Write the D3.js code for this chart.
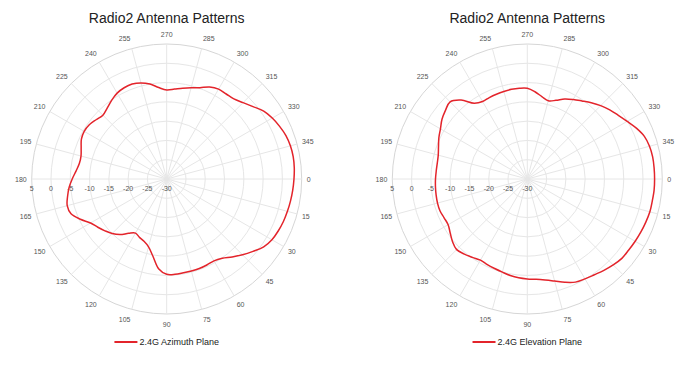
<!DOCTYPE html>
<html lang="en">
<head>
    <meta charset="UTF-8">
    <title>Radio2 Antenna Patterns</title>
    <script src="https://d3js.org/d3.v7.min.js"></script>
    <style>
        body { margin: 0; background: #fff; }
        svg { display: block; font-family: "Liberation Sans", Arial, sans-serif; }
    </style>
</head>
<body>
    <svg id="chart" width="691" height="370"></svg>
    <script>
        // angles (degrees) at which the pattern was read, every 5 degrees
        const angles = d3.range(0, 360, 5);

        // gain in dB, one value per angle
        const azimuthValues = [
            3.0, 2.8, 2.6, 2.4, 2.2, 1.9, 1.5, 0.7, -0.8, -2.2, -3.6, -4.9,
            -5.5, -5.4, -5.3, -5.3, -5.3, -5.2, -5.3, -6.6, -9.6, -11.8, -12.8, -13.3,
            -13.8, -12.8, -11.2, -10.0, -9.1, -8.2, -7.2, -5.3, -3.6, -3.3, -3.9, -4.6,
            -5.5, -6.4, -7.0, -7.0, -6.4, -5.6, -5.3, -5.5, -6.1, -6.6, -6.0, -5.1,
            -4.3, -3.9, -3.8, -4.2, -5.0, -6.2, -6.9, -6.6, -6.1, -5.5, -4.8, -3.7,
            -3.1, -3.1, -2.9, -2.0, -0.8, 0.7, 1.6, 2.3, 2.9, 3.2, 3.3, 3.2
        ];
        const elevationValues = [
            3.0, 3.0, 2.9, 2.9, 2.7, 2.5, 2.3, 2.1, 2.0, 1.5, 0.9, 0.3,
            -0.1, -0.5, -1.5, -2.6, -3.4, -3.9, -4.1, -4.3, -4.6, -5.0, -5.3, -5.5,
            -5.7, -5.2, -4.6, -4.1, -4.7, -5.6, -6.3, -6.2, -5.9, -5.9, -6.0, -6.1,
            -6.2, -6.3, -6.3, -6.1, -5.5, -4.7, -4.0, -3.0, -2.3, -1.7, -3.3, -6.0,
            -6.8, -6.7, -6.6, -6.5, -6.4, -6.4, -6.5, -7.3, -8.3, -9.0, -8.3, -7.1,
            -6.2, -5.3, -4.2, -3.1, -2.1, -1.2, -0.1, 1.2, 2.3, 2.8, 3.0, 3.0
        ];

        const angleTicks = d3.range(0, 360, 15);
        const radialTicks = [5, 0, -5, -10, -15, -20, -25, -30];

        const titleText = 'Radio2 Antenna Patterns';
        const seriesNames = ['2.4G Azimuth Plane', '2.4G Elevation Plane'];

        const svg = d3.select('#chart');
        const R = 135;
        const red = '#e3242b';

        const rScale = d3.scaleLinear().domain([-30, 5]).range([0, R]);
        const aScale = d3.scaleLinear().domain([0, 360]).range([0, 2 * Math.PI]);

        function drawPolar(cx, cy, values, name) {
            const g = svg.append('g').attr('transform', `translate(${cx},${cy})`);

            // title
            svg.append('text')
                .attr('x', cx)
                .attr('y', 23)
                .attr('text-anchor', 'middle')
                .attr('font-size', '14px')
                .attr('fill', '#222')
                .text(titleText);

            // rings
            g.selectAll('.ring')
                .data(radialTicks.filter(d => d > -30))
                .enter().append('circle')
                .attr('r', d => rScale(d))
                .attr('fill', 'none')
                .attr('stroke', d => d === 5 ? '#d6d6d6' : '#e6e6e6')
                .attr('stroke-width', 1);

            // spokes
            g.selectAll('.spoke')
                .data(angleTicks)
                .enter().append('line')
                .attr('x1', 0).attr('y1', 0)
                .attr('x2', d => R * Math.cos(aScale(d)))
                .attr('y2', d => R * Math.sin(aScale(d)))
                .attr('stroke', '#e6e6e6')
                .attr('stroke-width', 1);

            // angle labels
            g.selectAll('.alabel')
                .data(angleTicks)
                .enter().append('text')
                .each(function (d) {
                    const a = aScale(d);
                    const c = Math.cos(a), s = Math.sin(a);
                    const p = R + 5;
                    d3.select(this)
                        .attr('x', p * c)
                        .attr('y', p * s + 2.5 + s * 5)
                        .attr('text-anchor', c > 0.1 ? 'start' : (c < -0.1 ? 'end' : 'middle'));
                })
                .attr('font-size', '7px')
                .attr('fill', '#555')
                .text(d => d);

            // radial labels along the 180 direction
            g.selectAll('.rlabel')
                .data(radialTicks)
                .enter().append('text')
                .attr('x', d => -rScale(d))
                .attr('y', 12)
                .attr('text-anchor', 'middle')
                .attr('font-size', '7px')
                .attr('fill', '#555')
                .text(d => d);

            // pattern
            const line = d3.lineRadial()
                .angle((d, i) => aScale(angles[i]) + Math.PI / 2)
                .radius(d => rScale(d))
                .curve(d3.curveCatmullRomClosed);

            g.append('path')
                .datum(values)
                .attr('d', line)
                .attr('fill', 'none')
                .attr('stroke', red)
                .attr('stroke-width', 1.5);

            // legend
            const lg = svg.append('g').attr('transform', `translate(${cx - 54},342)`);
            const w = lg.append('text')
                .attr('x', 25)
                .attr('y', 3)
                .attr('font-size', '9px')
                .attr('fill', '#222')
                .text(name);
            const tw = w.node().getComputedTextLength();
            lg.attr('transform', `translate(${cx - (25 + tw) / 2},342)`);
            lg.append('line')
                .attr('x1', 0).attr('x2', 23)
                .attr('y1', 0).attr('y2', 0)
                .attr('stroke', red)
                .attr('stroke-width', 2);
        }

        drawPolar(166.7, 179, azimuthValues, seriesNames[0]);
        drawPolar(527.3, 179, elevationValues, seriesNames[1]);
    </script>
</body>
</html>
